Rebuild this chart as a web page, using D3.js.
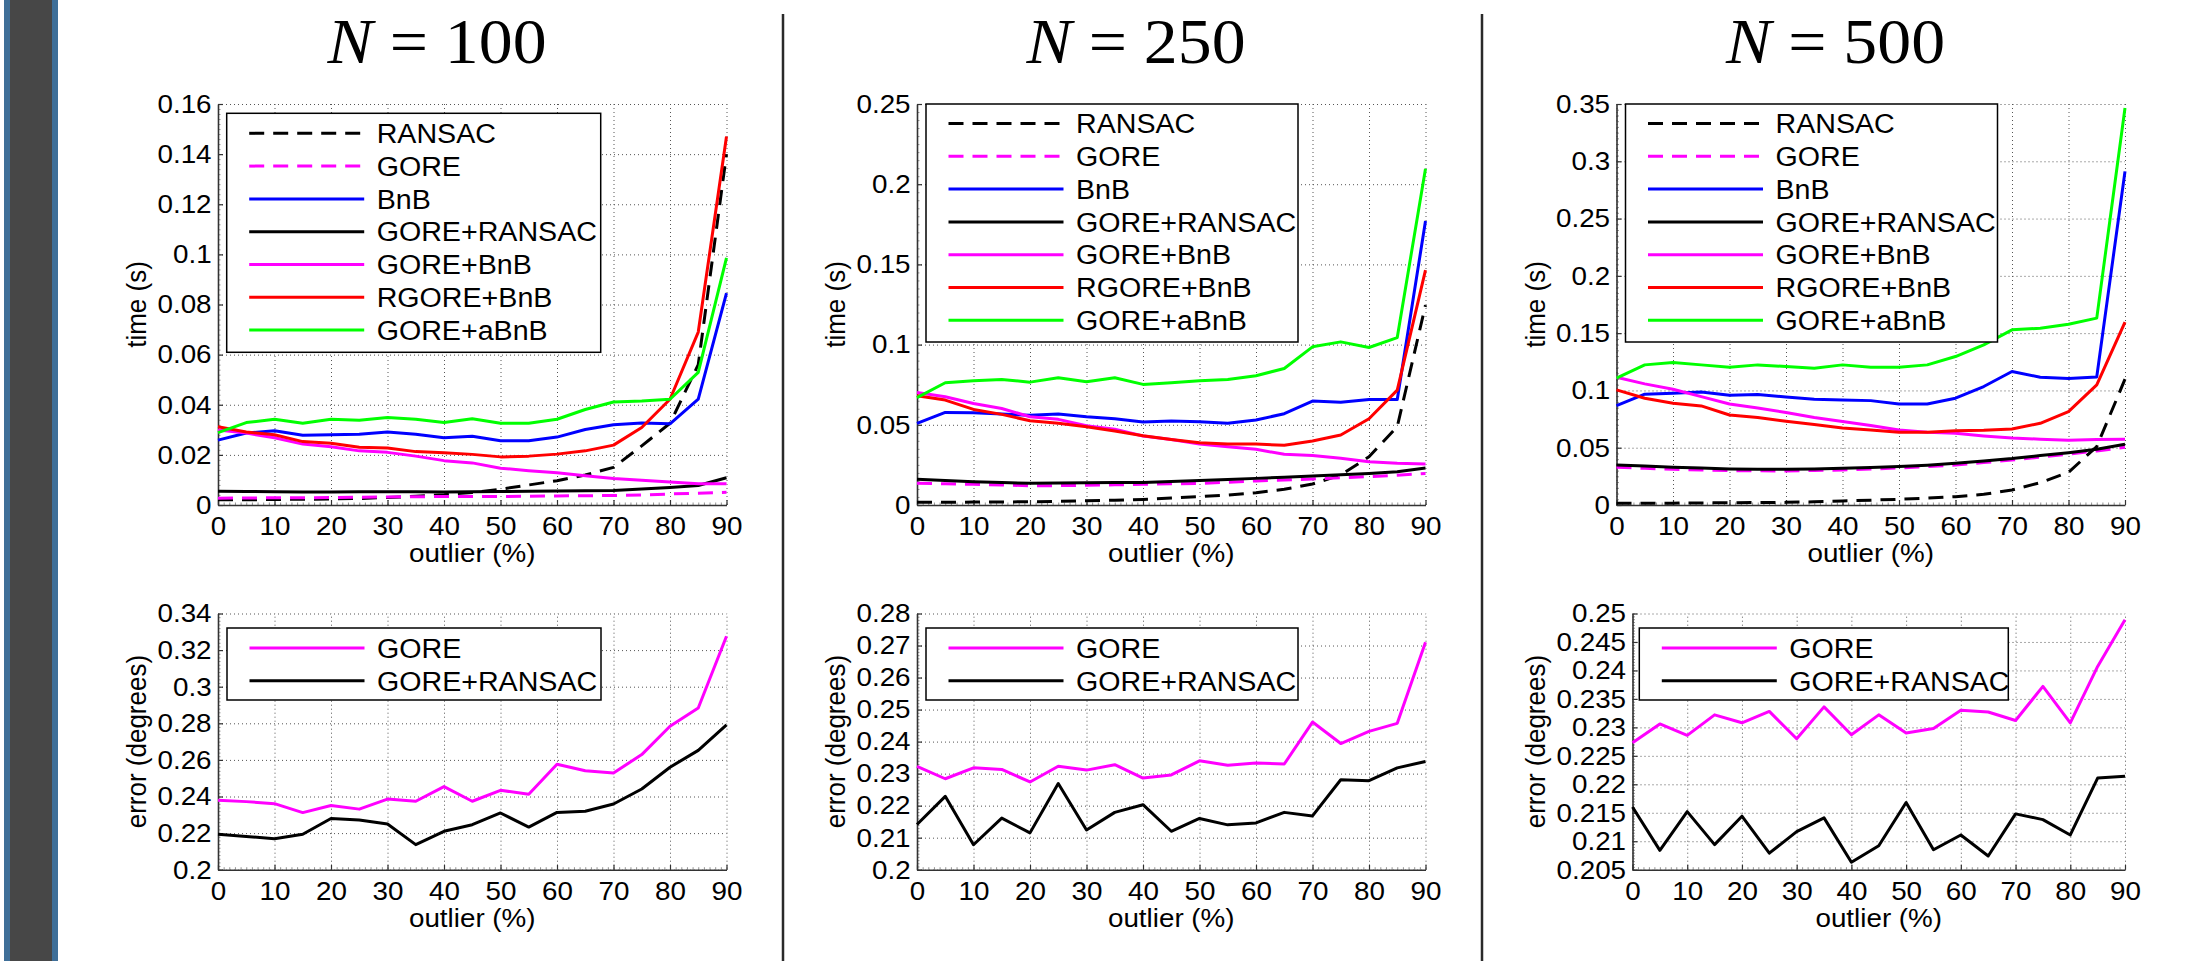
<!DOCTYPE html>
<html>
<head>
<meta charset="utf-8">
<script src="https://cdn.jsdelivr.net/npm/d3@7/dist/d3.min.js"></script>
<style>
  body { margin: 0; background: #fff; }
  svg text { font-family: "Liberation Sans", Arial, Helvetica, sans-serif; fill: #000; }
</style>
</head>
<body>
<svg id="fig" width="2193" height="961"></svg>
<script>
// x values (outlier %) and tick labels
const outlier = [0, 5, 10, 15, 20, 25, 30, 35, 40, 45, 50, 55, 60, 65, 70, 75, 80, 85, 90]
const xTicks = [0, 10, 20, 30, 40, 50, 60, 70, 80, 90]

const timeNames = ["RANSAC", "GORE", "BnB", "GORE+RANSAC", "GORE+BnB", "RGORE+BnB", "GORE+aBnB"]
const errNames = ["GORE", "GORE+RANSAC"]

// N = 100, time (s)
const ransac100 = [0.0021, 0.0021, 0.0022, 0.0023, 0.0024, 0.0026, 0.0030, 0.0035, 0.0041, 0.0050, 0.0063, 0.0080, 0.0097, 0.0120, 0.0150, 0.0236, 0.0326, 0.0560, 0.1400]
const gore100 = [0.0027, 0.0028, 0.0029, 0.0029, 0.0030, 0.0031, 0.0032, 0.0033, 0.0034, 0.0034, 0.0034, 0.0035, 0.0036, 0.0037, 0.0038, 0.0040, 0.0044, 0.0047, 0.0051]
const bnb100 = [0.0259, 0.0287, 0.0296, 0.0278, 0.0280, 0.0282, 0.0291, 0.0282, 0.0268, 0.0274, 0.0256, 0.0256, 0.0271, 0.0301, 0.0320, 0.0327, 0.0324, 0.0422, 0.0845]
const goreRansac100 = [0.0055, 0.0054, 0.0053, 0.0052, 0.0052, 0.0053, 0.0053, 0.0053, 0.0052, 0.0053, 0.0054, 0.0055, 0.0056, 0.0057, 0.0058, 0.0064, 0.0070, 0.0078, 0.0109]
const goreBnb100 = [0.0299, 0.0287, 0.0268, 0.0243, 0.0232, 0.0216, 0.0210, 0.0195, 0.0177, 0.0168, 0.0147, 0.0137, 0.0129, 0.0117, 0.0106, 0.0099, 0.0092, 0.0085, 0.0085]
const rgoreBnb100 = [0.0312, 0.0291, 0.0280, 0.0253, 0.0246, 0.0230, 0.0227, 0.0213, 0.0208, 0.0202, 0.0192, 0.0195, 0.0203, 0.0216, 0.0239, 0.0309, 0.0422, 0.0690, 0.1470]
const goreAbnb100 = [0.0289, 0.0329, 0.0342, 0.0326, 0.0342, 0.0338, 0.0349, 0.0342, 0.0329, 0.0344, 0.0326, 0.0326, 0.0342, 0.0381, 0.0411, 0.0415, 0.0422, 0.0529, 0.0986]
// N = 100, error (degrees)
const errGore100 = [0.2380, 0.2372, 0.2361, 0.2312, 0.2351, 0.2331, 0.2386, 0.2374, 0.2454, 0.2374, 0.2434, 0.2412, 0.2576, 0.2541, 0.2529, 0.2629, 0.2784, 0.2884, 0.3276]
const errGoreRansac100 = [0.2194, 0.2182, 0.2169, 0.2194, 0.2280, 0.2272, 0.2250, 0.2137, 0.2210, 0.2246, 0.2310, 0.2233, 0.2313, 0.2319, 0.2359, 0.2441, 0.2560, 0.2652, 0.2791]

// N = 250, time (s)
const ransac250 = [0.0017, 0.0017, 0.0018, 0.0019, 0.0020, 0.0023, 0.0027, 0.0030, 0.0035, 0.0043, 0.0052, 0.0062, 0.0077, 0.0098, 0.0131, 0.0187, 0.0301, 0.0488, 0.1246]
const gore250 = [0.0135, 0.0132, 0.0129, 0.0125, 0.0120, 0.0121, 0.0123, 0.0126, 0.0129, 0.0132, 0.0135, 0.0142, 0.0150, 0.0156, 0.0162, 0.0170, 0.0177, 0.0186, 0.0197]
const bnb250 = [0.0509, 0.0577, 0.0575, 0.0567, 0.0559, 0.0567, 0.0550, 0.0538, 0.0517, 0.0523, 0.0519, 0.0509, 0.0530, 0.0569, 0.0648, 0.0640, 0.0658, 0.0658, 0.1771]
const goreRansac250 = [0.0160, 0.0152, 0.0145, 0.0140, 0.0135, 0.0137, 0.0139, 0.0140, 0.0141, 0.0146, 0.0152, 0.0159, 0.0166, 0.0173, 0.0181, 0.0189, 0.0197, 0.0208, 0.0230]
const goreBnb250 = [0.0702, 0.0675, 0.0633, 0.0602, 0.0550, 0.0534, 0.0494, 0.0473, 0.0430, 0.0409, 0.0380, 0.0363, 0.0347, 0.0316, 0.0309, 0.0291, 0.0270, 0.0260, 0.0255]
const rgoreBnb250 = [0.0681, 0.0654, 0.0596, 0.0565, 0.0525, 0.0509, 0.0488, 0.0461, 0.0432, 0.0409, 0.0388, 0.0380, 0.0380, 0.0372, 0.0399, 0.0436, 0.0538, 0.0716, 0.1464]
const goreAbnb250 = [0.0669, 0.0762, 0.0775, 0.0783, 0.0766, 0.0793, 0.0768, 0.0793, 0.0752, 0.0762, 0.0775, 0.0783, 0.0806, 0.0851, 0.0986, 0.1017, 0.0982, 0.1044, 0.2097]
// N = 250, error (degrees)
const errGore250 = [0.2323, 0.2284, 0.2318, 0.2313, 0.2274, 0.2323, 0.2311, 0.2328, 0.2286, 0.2296, 0.2340, 0.2326, 0.2333, 0.2330, 0.2461, 0.2394, 0.2432, 0.2457, 0.2710]
const errGoreRansac250 = [0.2141, 0.2229, 0.2078, 0.2161, 0.2115, 0.2269, 0.2124, 0.2179, 0.2203, 0.2120, 0.2160, 0.2140, 0.2146, 0.2179, 0.2168, 0.2281, 0.2278, 0.2318, 0.2338]

// N = 500, time (s)
const ransac500 = [0.0015, 0.0015, 0.0016, 0.0018, 0.0020, 0.0021, 0.0023, 0.0028, 0.0035, 0.0042, 0.0050, 0.0060, 0.0073, 0.0093, 0.0131, 0.0195, 0.0285, 0.0510, 0.1098]
const gore500 = [0.0329, 0.0320, 0.0312, 0.0305, 0.0300, 0.0298, 0.0297, 0.0301, 0.0306, 0.0314, 0.0323, 0.0335, 0.0349, 0.0370, 0.0393, 0.0418, 0.0443, 0.0472, 0.0504]
const bnb500 = [0.0868, 0.0967, 0.0976, 0.0987, 0.0958, 0.0964, 0.0943, 0.0923, 0.0917, 0.0911, 0.0882, 0.0882, 0.0932, 0.1034, 0.1165, 0.1115, 0.1104, 0.1118, 0.2912]
const goreRansac500 = [0.0349, 0.0340, 0.0329, 0.0322, 0.0315, 0.0313, 0.0312, 0.0315, 0.0320, 0.0327, 0.0335, 0.0348, 0.0364, 0.0384, 0.0405, 0.0432, 0.0457, 0.0486, 0.0530]
const goreBnb500 = [0.1115, 0.1057, 0.1010, 0.0946, 0.0882, 0.0847, 0.0807, 0.0763, 0.0728, 0.0693, 0.0655, 0.0635, 0.0626, 0.0603, 0.0585, 0.0574, 0.0565, 0.0571, 0.0574]
const rgoreBnb500 = [0.1005, 0.0932, 0.0888, 0.0865, 0.0786, 0.0763, 0.0731, 0.0702, 0.0673, 0.0655, 0.0635, 0.0635, 0.0649, 0.0652, 0.0664, 0.0713, 0.0815, 0.1048, 0.1596]
const goreAbnb500 = [0.1107, 0.1223, 0.1244, 0.1223, 0.1203, 0.1223, 0.1209, 0.1194, 0.1223, 0.1203, 0.1203, 0.1223, 0.1296, 0.1398, 0.1529, 0.1543, 0.1578, 0.1631, 0.3465]
// N = 500, error (degrees)
const errGore500 = [0.2273, 0.2306, 0.2286, 0.2322, 0.2308, 0.2328, 0.2280, 0.2336, 0.2287, 0.2322, 0.2290, 0.2298, 0.2330, 0.2327, 0.2312, 0.2372, 0.2308, 0.2407, 0.2489]
const errGoreRansac500 = [0.2160, 0.2084, 0.2152, 0.2094, 0.2144, 0.2079, 0.2117, 0.2141, 0.2063, 0.2092, 0.2168, 0.2085, 0.2111, 0.2074, 0.2148, 0.2138, 0.2111, 0.2211, 0.2214]

// y tick labels
const timeTicks100 = [0, 0.02, 0.04, 0.06, 0.08, 0.1, 0.12, 0.14, 0.16]
const timeTicks250 = [0, 0.05, 0.1, 0.15, 0.2, 0.25]
const timeTicks500 = [0, 0.05, 0.1, 0.15, 0.2, 0.25, 0.3, 0.35]
const errTicks100 = [0.2, 0.22, 0.24, 0.26, 0.28, 0.3, 0.32, 0.34]
const errTicks250 = [0.2, 0.21, 0.22, 0.23, 0.24, 0.25, 0.26, 0.27, 0.28]
const errTicks500 = [0.205, 0.21, 0.215, 0.22, 0.225, 0.23, 0.235, 0.24, 0.245, 0.25]

const timeColors = ["#000000", "#ff00ff", "#0000ff", "#000000", "#ff00ff", "#ff0000", "#00ff00"]
const timeDashed = [true, true, false, false, false, false, false]
const errColors = ["#ff00ff", "#000000"]

const SX = 1.07 // the figure text is a bit wider than Arial

const svg = d3.select("#fig")
svg.append("rect").attr("width", 2193).attr("height", 961).attr("fill", "#fff")

// dark side bar on the left
svg.append("rect").attr("x", 4).attr("y", 0).attr("width", 54).attr("height", 961).attr("fill", "#3f6f98")
svg.append("rect").attr("x", 10).attr("y", 0).attr("width", 42).attr("height", 961).attr("fill", "#474747")

// separators between the columns
;[783, 1482].forEach(sx => {
  svg.append("line").attr("x1", sx).attr("x2", sx).attr("y1", 14).attr("y2", 961)
    .attr("stroke", "#2a2a2a").attr("stroke-width", 2.5)
})

function wideText(parent, x, y, str, size, anchor) {
  return parent.append("text")
    .attr("transform", `translate(${x},${y}) scale(${SX},1)`)
    .attr("text-anchor", anchor).attr("font-size", size).text(str)
}

function drawPanel(p) {
  const g = svg.append("g")
  const x = d3.scaleLinear().domain([0, 90]).range([p.left, p.right])
  const y = d3.scaleLinear().domain(p.domain).range([p.bottom, p.top])
  const h = p.bottom - p.top, w = p.right - p.left

  // dotted grid
  const gx = g.append("g").attr("transform", `translate(0,${p.bottom})`)
    .call(d3.axisBottom(x).tickValues(xTicks).tickSize(-h).tickFormat(""))
  const gy = g.append("g").attr("transform", `translate(${p.left},0)`)
    .call(d3.axisLeft(y).tickValues(p.ticks).tickSize(-w).tickFormat(""))
  ;[gx, gy].forEach(a => {
    a.select(".domain").remove()
    a.selectAll("line").attr("stroke", "#555").attr("stroke-width", 1).attr("stroke-dasharray", "1,3")
  })

  // minor ticks
  const mx = g.append("g").attr("transform", `translate(0,${p.bottom})`)
    .call(d3.axisBottom(x).ticks(90).tickSize(-2.5).tickFormat(""))
  const my = g.append("g").attr("transform", `translate(${p.left},0)`)
    .call(d3.axisLeft(y).ticks(p.ticks.length * 8).tickSize(-2.5).tickFormat(""))
  ;[mx, my].forEach(a => {
    a.select(".domain").remove()
    a.selectAll("line").attr("stroke", "#777").attr("stroke-width", 0.8)
  })

  // axes
  const ax = g.append("g").attr("transform", `translate(0,${p.bottom})`)
    .call(d3.axisBottom(x).tickValues(xTicks).tickSizeInner(-5).tickSizeOuter(0).tickPadding(12))
  const ay = g.append("g").attr("transform", `translate(${p.left},0)`)
    .call(d3.axisLeft(y).tickValues(p.ticks).tickFormat(d3.format("~g")).tickSizeInner(-5).tickSizeOuter(0).tickPadding(6))
  ;[ax, ay].forEach(a => {
    a.select(".domain").attr("stroke", "#333").attr("stroke-width", 1.6)
    a.selectAll(".tick line").attr("stroke", "#333").attr("stroke-width", 1.2)
    a.selectAll("text").attr("font-size", 26).attr("font-family", null).attr("fill", "#000")
      .attr("transform", `scale(${SX},1)`)
  })

  // series
  const line = d3.line().x((d, i) => x(outlier[i])).y(d => y(d))
  g.append("g").selectAll("path").data(p.series).join("path")
    .attr("d", d => line(d))
    .attr("fill", "none")
    .attr("stroke", (d, i) => p.colors[i])
    .attr("stroke-width", 3)
    .attr("stroke-linejoin", "round")
    .attr("stroke-dasharray", (d, i) => p.dashed && p.dashed[i] ? "15,9" : null)

  // axis labels
  wideText(g, (p.left + p.right) / 2, p.bottom + 57, "outlier (%)", 26, "middle")
  g.append("text").attr("transform", `translate(${p.ylabelX},${(p.top + p.bottom) / 2}) rotate(-90) scale(1,${SX})`)
    .attr("text-anchor", "middle").attr("font-size", 26).text(p.ylabel)

  // legend
  const lg = g.append("g").attr("transform", `translate(${p.legend.x},${p.legend.y})`)
  lg.append("rect").attr("width", p.legend.w).attr("height", p.legend.h)
    .attr("fill", "#fff").attr("stroke", "#000").attr("stroke-width", 1.5)
  const rows = lg.selectAll(".row").data(p.names).join("g").attr("class", "row")
    .attr("transform", (d, i) => `translate(0,${p.legend.first + i * 32.8})`)
  rows.append("line").attr("x1", 22.5).attr("x2", 137.5)
    .attr("stroke", (d, i) => p.colors[i]).attr("stroke-width", 3)
    .attr("stroke-dasharray", (d, i) => p.dashed && p.dashed[i] ? "15,9" : null)
  rows.append("text").attr("transform", "translate(150,0) scale(1.06,1)")
    .attr("dy", "0.36em").attr("font-size", 27).text(d => d)
}

function drawTitle(cx, n) {
  const t = svg.append("text").attr("transform", `translate(${cx},63) scale(1.06,1)`).attr("text-anchor", "middle")
    .attr("font-size", 64).style("font-family", '"Liberation Serif", "Times New Roman", serif')
  t.append("tspan").attr("font-style", "italic").text("N")
  t.append("tspan").text(" = " + n)
}

const lefts = [218, 917, 1616.5]
const titles = ["100", "250", "500"]
const timeSeries = [
  [ransac100, gore100, bnb100, goreRansac100, goreBnb100, rgoreBnb100, goreAbnb100],
  [ransac250, gore250, bnb250, goreRansac250, goreBnb250, rgoreBnb250, goreAbnb250],
  [ransac500, gore500, bnb500, goreRansac500, goreBnb500, rgoreBnb500, goreAbnb500]
]
const errSeries = [
  [errGore100, errGoreRansac100],
  [errGore250, errGoreRansac250],
  [errGore500, errGoreRansac500]
]
const timeTicks = [timeTicks100, timeTicks250, timeTicks500]
const errTicks = [errTicks100, errTicks250, errTicks500]

lefts.forEach((L, k) => {
  const R = L + 508.5
  drawTitle(L + 219, titles[k])
  const tt = timeTicks[k]
  drawPanel({
    left: L, right: R, top: 104, bottom: 505,
    domain: [tt[0], tt[tt.length - 1]], ticks: tt,
    series: timeSeries[k], names: timeNames, colors: timeColors, dashed: timeDashed,
    ylabel: "time (s)", ylabelX: L - 72,
    legend: k === 0 ? { x: L + 8.7, y: 113.3, w: 374, h: 239, first: 20 }
                    : { x: L + 9, y: 104, w: 372, h: 238, first: 19.5 }
  })
  const et = errTicks[k]
  const eL = k === 2 ? 1632.5 : L
  drawPanel({
    left: eL, right: R, top: 613.5, bottom: 869.7,
    domain: [et[0], et[et.length - 1]], ticks: et,
    series: errSeries[k], names: errNames, colors: errColors, dashed: null,
    ylabel: "error (degrees)", ylabelX: L - 72,
    legend: k === 2 ? { x: 1639.3, y: 628, w: 369, h: 72, first: 20 }
                    : { x: L + 9, y: 628, w: k === 0 ? 374 : 372, h: 72, first: 20 }
  })
})
</script>
</body>
</html>
